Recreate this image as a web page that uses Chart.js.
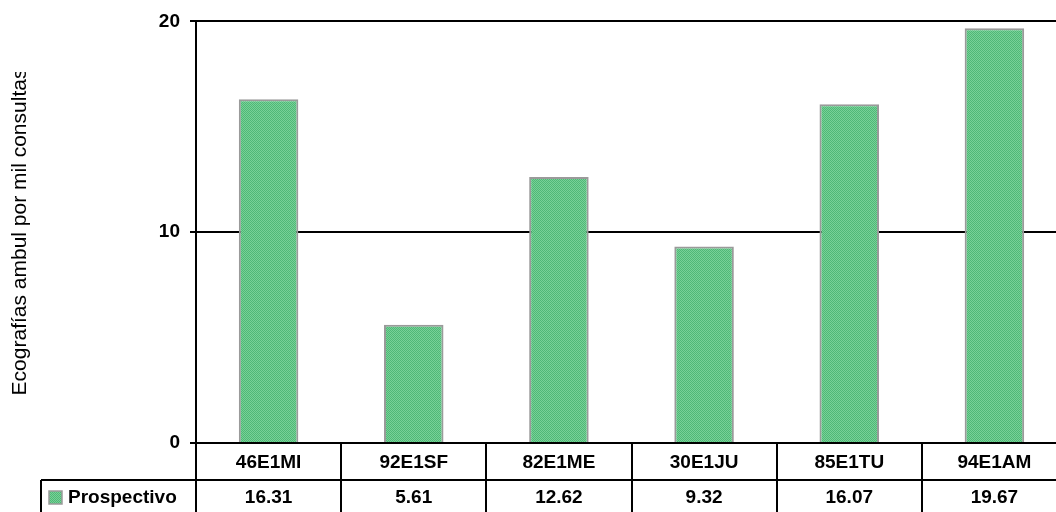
<!DOCTYPE html>
<html>
<head>
<meta charset="utf-8">
<script src="https://cdn.jsdelivr.net/npm/chart.js@4"></script>
<style>
    html, body { margin: 0; padding: 0; background: #fff; overflow: hidden; }
    #wrap { width: 1072px; height: 512px; }
</style>
</head>
<body>
<div id="wrap"><canvas id="chart" width="1072" height="512"></canvas></div>
<script>
const categories = ["46E1MI", "92E1SF", "82E1ME", "30E1JU", "85E1TU", "94E1AM"];
const prospectivo = [16.31, 5.61, 12.62, 9.32, 16.07, 19.67];
const yTicks = [0, 10, 20];
const seriesName = "Prospectivo";
const yTitle = "Ecografías ambul por mil consultas";

const FONT = "'Liberation Sans', Arial, sans-serif";
const tableLine = 480;  // line between label row and value row
const legendLeft = 41;

// dotted green fill used by the bars
function makeFill() {
    let c = document.createElement("canvas");
    c.width = 2; c.height = 2;
    let g = c.getContext("2d");
    g.fillStyle = "#78d197";
    g.fillRect(0, 0, 2, 2);
    g.fillStyle = "#4fb877";
    g.fillRect(0, 0, 1, 1);
    g.fillRect(1, 1, 1, 1);
    return g.createPattern(c, "repeat");
}
const barFill = makeFill();

// rotated axis title, the tail is cut at the top like the source sheet
const yTitlePlugin = {
    id: "yTitle",
    afterDraw(chart) {
        let ctx = chart.ctx;
        ctx.save();
        ctx.beginPath();
        ctx.rect(0, 72, 60, 400);
        ctx.clip();
        ctx.translate(20, 232);
        ctx.rotate(-Math.PI / 2);
        ctx.font = "21px " + FONT;
        ctx.fillStyle = "#000";
        ctx.textAlign = "center";
        ctx.textBaseline = "middle";
        ctx.fillText(yTitle, 0, 0);
        ctx.restore();
    }
};

// data table under the x axis
const tablePlugin = {
    id: "dataTable",
    afterDraw(chart) {
        let ctx = chart.ctx;
        let area = chart.chartArea;
        let xs = chart.scales.x;
        let n = categories.length;
        let colW = (area.right - area.left) / n;
        let bottom = chart.height;

        ctx.save();
        ctx.strokeStyle = "#000";
        ctx.lineWidth = 2;
        ctx.beginPath();
        for (let i = 0; i <= n; ++i) {
            let x = Math.round(area.left + i * colW);
            ctx.moveTo(x, area.bottom);
            ctx.lineTo(x, bottom);
        }
        ctx.moveTo(legendLeft, tableLine);
        ctx.lineTo(area.right, tableLine);
        ctx.moveTo(legendLeft, tableLine);
        ctx.lineTo(legendLeft, bottom);
        ctx.stroke();

        let rowMid = (tableLine + bottom) / 2 + 2;

        // legend key
        ctx.fillStyle = barFill;
        ctx.fillRect(49, rowMid - 7, 13, 13);
        ctx.strokeStyle = "#9a9a9a";
        ctx.lineWidth = 1.5;
        ctx.strokeRect(49, rowMid - 7, 13, 13);

        ctx.fillStyle = "#000";
        ctx.font = "bold 19px " + FONT;
        ctx.textBaseline = "middle";
        ctx.textAlign = "left";
        ctx.fillText(seriesName, 68, rowMid);

        ctx.textAlign = "center";
        prospectivo.forEach((v, i) => {
            ctx.fillText(v.toFixed(2), xs.getPixelForValue(i), rowMid);
        });
        ctx.restore();
    }
};

new Chart(document.getElementById("chart"), {
    type: "bar",
    data: {
        labels: categories,
        datasets: [{
            label: seriesName,
            data: prospectivo,
            backgroundColor: barFill,
            borderColor: "#9a9a9a",
            borderWidth: 2,
            categoryPercentage: 1,
            barPercentage: 0.41,
        }]
    },
    options: {
        responsive: false,
        animation: false,
        devicePixelRatio: 1,
        layout: {
            padding: { top: 21, right: 5, left: 0, bottom: 0 }
        },
        plugins: {
            legend: { display: false },
            tooltip: { enabled: false },
        },
        scales: {
            x: {
                grid: { display: false },
                border: { display: false },
                ticks: {
                    color: "#000",
                    font: { family: FONT, size: 19, weight: "bold" },
                    padding: 0,
                    maxRotation: 0,
                },
                afterFit: (scale) => { scale.height = 69; },
            },
            y: {
                min: yTicks[0],
                max: yTicks[yTicks.length - 1],
                afterBuildTicks: (scale) => { scale.ticks = yTicks.map(v => ({ value: v })); },
                grid: {
                    color: "#000",
                    lineWidth: 2,
                    tickLength: 6,
                },
                border: { color: "#000", width: 2 },
                ticks: {
                    color: "#000",
                    font: { family: FONT, size: 19, weight: "bold" },
                    padding: 10,
                },
                afterFit: (scale) => { scale.width = 196; },
            }
        }
    },
    plugins: [yTitlePlugin, tablePlugin]
});
</script>
</body>
</html>
